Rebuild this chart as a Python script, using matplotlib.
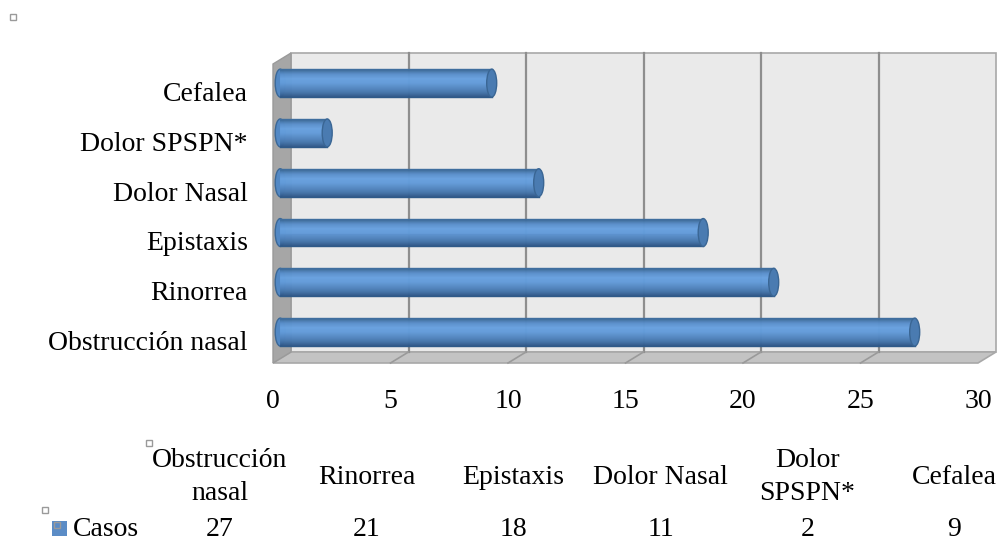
import numpy as np
import matplotlib
matplotlib.use('Agg')
import matplotlib.pyplot as plt
from matplotlib.patches import Polygon, Ellipse, Rectangle
from matplotlib.colors import LinearSegmentedColormap
from matplotlib import transforms

categorias = ['Obstrucción nasal', 'Rinorrea', 'Epistaxis', 'Dolor Nasal', 'Dolor SPSPN*', 'Cefalea']
casos = [27, 21, 18, 11, 2, 9]
encabezados = ['Obstrucción\nnasal', 'Rinorrea', 'Epistaxis', 'Dolor Nasal', 'Dolor\nSPSPN*', 'Cefalea']
serie = 'Casos'
ticks_x = [0, 5, 10, 15, 20, 25, 30]

plt.rcParams['font.family'] = ['Liberation Serif', 'DejaVu Serif']

W, H = 1002, 546
fig = plt.figure(figsize=(W / 100, H / 100), dpi=100)

# front face of the box in pixels
x0, x1 = 273, 978
yb, yt = 363, 64
ax = fig.add_axes([x0 / W, 1 - yb / H, (x1 - x0) / W, (yb - yt) / H])
ylo, yhi = -0.532, 5.472
ax.set_xlim(ticks_x[0], ticks_x[-1])
ax.set_ylim(ylo, yhi)
for s in ax.spines.values():
    s.set_visible(False)
ax.patch.set_visible(False)

# depth of the 3-D box, converted to data units
ux = (x1 - x0) / (ticks_x[-1] - ticks_x[0])
uy = (yb - yt) / (yhi - ylo)
dx, dy = 18 / ux, 11 / uy
xlo, xhi = ticks_x[0], ticks_x[-1]

# back wall, floor and side wall
ax.add_patch(Polygon([(xlo + dx, ylo + dy), (xhi + dx, ylo + dy), (xhi + dx, yhi + dy), (xlo + dx, yhi + dy)],
                     closed=True, fc='#EAEAEA', ec='#A8A8A8', lw=1.2, clip_on=False, zorder=0))
ax.add_patch(Polygon([(xlo, ylo), (xhi, ylo), (xhi + dx, ylo + dy), (xlo + dx, ylo + dy)],
                     closed=True, fc='#C3C3C3', ec='#A8A8A8', lw=1.2, clip_on=False, zorder=0))
ax.add_patch(Polygon([(xlo, ylo), (xlo + dx, ylo + dy), (xlo + dx, yhi + dy), (xlo, yhi)],
                     closed=True, fc='#A6A6A6', ec='#9A9A9A', lw=1.0, clip_on=False, zorder=0.5))

# gridlines on the back wall and their continuation across the floor
for t in ticks_x[1:-1]:
    ax.plot([t + dx, t + dx], [ylo + dy, yhi + dy], color='#8E8E8E', lw=1.6, clip_on=False, zorder=1)
    ax.plot([t, t + dx], [ylo, ylo + dy], color='#9A9A9A', lw=1.2, clip_on=False, zorder=1)

# cylinders
f = 0.4
h = 0.56
cw = 10 / ux
n = 28
cmap = LinearSegmentedColormap.from_list(
    'cil', ['#3A6896', '#5A8FCB', '#68A1DF', '#629BD9', '#5589C4', '#4777AD', '#30598A'])
strip_cols = cmap(np.linspace(0, 1, n))
for i, v in enumerate(casos):
    yc = i + f * dy
    xs = f * dx
    ax.add_patch(Ellipse((xs, yc), cw, h, fc='#5288C4', ec='#3B6897', lw=1.0, zorder=2.5))
    centers = yc + h / 2 - (np.arange(n) + 0.5) * h / n
    ax.barh(centers, [v] * n, height=h / n, left=xs, color=strip_cols,
            edgecolor=strip_cols, lw=0.5, zorder=3)
    ax.plot([xs, xs + v], [yc + h / 2, yc + h / 2], color='#3F6E9E', lw=1.0, zorder=3.1)
    ax.plot([xs, xs + v], [yc - h / 2, yc - h / 2], color='#2F5A88', lw=1.0, zorder=3.1)
    ax.add_patch(Ellipse((xs + v, yc), cw, h, fc='#4A7BB1', ec='#3A6694', lw=1.0, zorder=4))

# axis labels
ax.set_xticks(ticks_x)
ax.set_xticklabels([str(t) for t in ticks_x])
ax.set_yticks(range(len(categorias)))
ax.set_yticklabels(categorias)
ax.tick_params(axis='x', length=0, pad=19, labelsize=20)
ax.tick_params(axis='y', length=0, pad=18, labelsize=20)
shift = transforms.ScaledTranslation(0, -4 / 100, fig.dpi_scale_trans)
for lbl in ax.get_yticklabels():
    lbl.set_transform(lbl.get_transform() + shift)

# data table under the chart
col0, colw = 146, 147
for j, (enc, val) in enumerate(zip(encabezados, casos)):
    cx = (col0 + colw * (j + 0.5)) / W
    fig.text(cx, 1 - 477 / H, enc, ha='center', va='center', fontsize=20,
             linespacing=1.42, multialignment='center')
    fig.text(cx, 1 - 530 / H, str(val), ha='center', va='center', fontsize=20)

fig.patches.append(Rectangle((52 / W, 1 - 536 / H), 15 / W, 15 / H, transform=fig.transFigure,
                             fc='#5B8CC6', ec='none'))
fig.text(73 / W, 1 - 530 / H, serie, ha='left', va='center', fontsize=20)

# selection handles
for hx, hy in [(10, 14), (146, 440), (42, 507), (54, 522)]:
    fig.patches.append(Rectangle((hx / W, 1 - (hy + 6) / H), 6 / W, 6 / H, transform=fig.transFigure,
                                 fc='white' if hy != 522 else 'none', ec='#9A9A9A', lw=1.0))

fig.savefig('out.png', dpi=100)
